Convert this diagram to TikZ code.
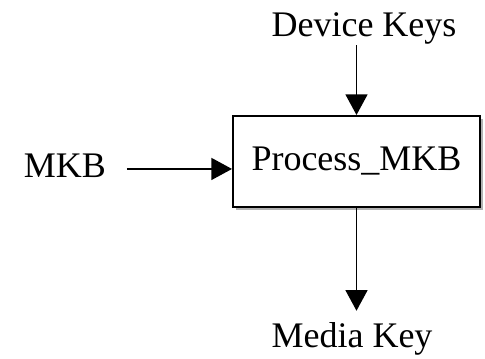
\documentclass[tikz,border=0pt]{standalone}
\usepackage{fontspec}
\setmainfont{Liberation Serif}
\usetikzlibrary{arrows.meta,shadows}
\tikzset{
  lbl/.style={inner sep=0pt, anchor=base, font=\fontsize{27pt}{30pt}\selectfont},
  procbox/.style={draw, line width=1.5pt, fill=white, minimum width=185.25pt, minimum height=68.25pt,
    font=\fontsize{27pt}{30pt}\selectfont,
    drop shadow={shadow xshift=2.5pt, shadow yshift=-2.5pt, fill=gray!60, opacity=1}},
  arr/.style={line width=1.2pt, -{Triangle[length=15.5pt,width=16.5pt]}}
}
\begin{document}
\begin{tikzpicture}[x=0.75pt,y=0.75pt]
  \useasboundingbox (0,0) rectangle (485,359);
  \node[procbox] (proc) at (356.5,197.5) {Process\_MKB};
  \node[lbl] (dev) at (364,322) {Device Keys};
  \node[lbl] (mkb) at (65,181) {MKB};
  \node[lbl] (media) at (352,11) {Media Key};
  \coordinate (in) at ([yshift=-5.6pt]proc.west);
  \draw[arr] (proc.north |- dev.south) -- (proc.north);
  \draw[arr, shorten <=15.5pt] (mkb.east |- in) -- (in);
  \draw[arr, shorten >=9pt] (proc.south) -- (proc.south |- media.north);
\end{tikzpicture}
\end{document}
